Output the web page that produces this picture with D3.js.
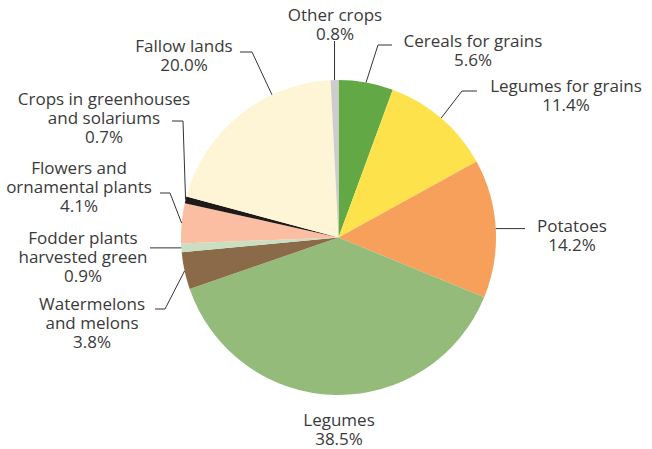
<!DOCTYPE html>
<html><head><meta charset="utf-8">
<script src="https://cdn.jsdelivr.net/npm/d3@7"></script>
<style>html,body{margin:0;padding:0;background:#fff;}svg{display:block;}</style>
</head><body>
<svg id="chart" width="652" height="449"></svg>
<script>
const categories = ["Cereals for grains","Legumes for grains","Potatoes","Legumes","Watermelons and melons","Fodder plants harvested green","Flowers and ornamental plants","Crops in greenhouses and solariums","Fallow lands","Other crops"];
const values = [5.6, 11.4, 14.2, 38.5, 3.8, 0.9, 4.1, 0.7, 20.0, 0.8];
const labelLines = [
  ["Cereals for grains","5.6%"],
  ["Legumes for grains","11.4%"],
  ["Potatoes","14.2%"],
  ["Legumes","38.5%"],
  ["Watermelons","and melons","3.8%"],
  ["Fodder plants","harvested green","0.9%"],
  ["Flowers and","ornamental plants","4.1%"],
  ["Crops in greenhouses","and solariums","0.7%"],
  ["Fallow lands","20.0%"],
  ["Other crops","0.8%"]
];
const colors = ["#62a845","#fde24b","#f7a05b","#95bb7b","#8a6a48","#c9dfc1","#fbbea3","#1f1a17","#fdf5d5","#cdcdcd"];

// layout for labels (text anchor center, first baseline, leader path)
const layout = [
  {tx:473, ty:47, pts:[[378,45],[392,45]]},
  {tx:566, ty:92, pts:[[462,91],[477,91]]},
  {tx:572, ty:232, pts:[[525,null]]},
  {tx:339, ty:426, pts:null},
  {tx:92, ty:310, pts:[[165,309],[155,309]]},
  {tx:83, ty:244, pts:[[150,null]]},
  {tx:79, ty:174, pts:[[170,193],[160,193]]},
  {tx:104, ty:105, pts:[[183,121],[172,121]]},
  {tx:184, ty:52, pts:[[252,52],[240,52]], angleDeg:335},
  {tx:335, ty:21, pts:[[null,41]]}
];

const cx = 338.5, cy = 237.5, R = 157.5, lineH = 19;
const svg = d3.select("#chart");
const g = svg.append("g").attr("transform", `translate(${cx},${cy})`);
const pie = d3.pie().sort(null).value(d => d)(values);
const arc = d3.arc().innerRadius(0).outerRadius(R);
g.selectAll("path.slice").data(pie).enter().append("path")
  .attr("class","slice").attr("d", arc).attr("fill", (d,i) => colors[i]);

const textColor = "#3a3a3a";
pie.forEach((d,i) => {
  const L = layout[i];
  if (L.pts) {
    const a = L.angleDeg != null ? L.angleDeg*Math.PI/180 : (d.startAngle + d.endAngle)/2;
    const sx = cx + R*Math.sin(a), sy = cy - R*Math.cos(a);
    const pts = [[sx,sy]].concat(L.pts.map(p => [p[0]==null?sx:p[0], p[1]==null?sy:p[1]]));
    svg.append("path").attr("d", d3.line()(pts)).attr("fill","none")
      .attr("stroke","#333").attr("stroke-width",1);
  }
  const t = svg.append("text").attr("text-anchor","middle")
    .attr("font-family","'Open Sans', 'Noto Sans', sans-serif").attr("font-size",17)
    .attr("fill",textColor);
  labelLines[i].forEach((s,k) => {
    t.append("tspan").attr("x", L.tx).attr("y", L.ty + k*lineH).text(s);
  });
});
</script>
</body></html>
